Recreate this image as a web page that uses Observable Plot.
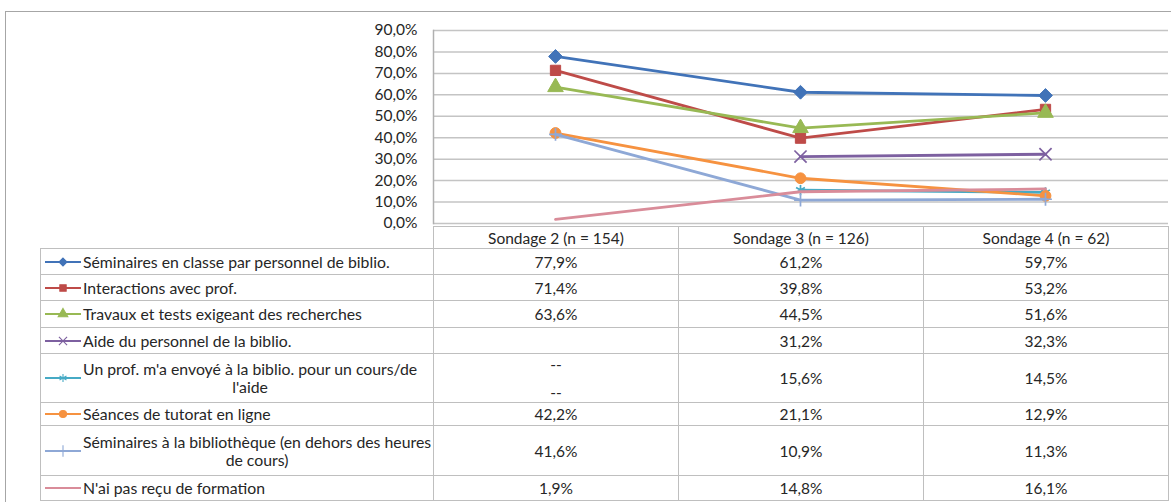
<!DOCTYPE html>
<html><head><meta charset="utf-8">
<script src="https://cdn.jsdelivr.net/npm/d3@7"></script>
<script src="https://cdn.jsdelivr.net/npm/@observablehq/plot@0.6"></script>
<style>
body{margin:0;background:#fff;font-family:Lato,"Open Sans",sans-serif;color:#262626;}
#wrap{position:relative;width:1171px;height:502px;overflow:hidden;background:#fff;}
#frame{position:absolute;left:5px;top:11px;width:1300px;height:700px;border:1.5px solid #A6A6A6;box-sizing:border-box;}
#chart{position:absolute;left:0;top:0;}
table{position:absolute;left:40px;top:226px;border-collapse:collapse;font-size:15.5px;table-layout:fixed;}
td{border:1px solid #BFBFBF;text-align:center;padding:0;vertical-align:middle;line-height:18px;}
td.blank{border:none;}
td.lab{text-align:left;}
.labwrap{display:flex;align-items:center;}
.labwrap svg{flex:none;}
.labtxt{display:inline-block;text-align:center;white-space:pre;font-size:15.8px;}
.miss{display:block;line-height:14px;}
</style>
</head><body>
<div id="wrap"><div id="frame"></div><div id="chart"></div><table id="tbl"></table></div>
<script>
// ---------- DATA ----------
const sondages = ["Sondage 2 (n = 154)", "Sondage 3 (n = 126)", "Sondage 4 (n = 62)"];
const seriesNames = [
  "Séminaires en classe par personnel de biblio.",
  "Interactions avec prof.",
  "Travaux et tests exigeant des recherches",
  "Aide du personnel de la biblio.",
  "Un prof. m'a envoyé à la biblio. pour un cours/de\nl'aide",
  "Séances de tutorat en ligne",
  "Séminaires à la bibliothèque (en dehors des heures\nde cours)",
  "N'ai pas reçu de formation"
];
const seminairesClasse   = [77.9, 61.2, 59.7];
const interactionsProf   = [71.4, 39.8, 53.2];
const travauxTests       = [63.6, 44.5, 51.6];
const aidePersonnel      = [null, 31.2, 32.3];
const profEnvoye         = [null, 15.6, 14.5];
const tutoratEnLigne     = [42.2, 21.1, 12.9];
const seminairesBiblio   = [41.6, 10.9, 11.3];
const pasDeFormation     = [1.9, 14.8, 16.1];
const seriesValues = [seminairesClasse, interactionsProf, travauxTests, aidePersonnel,
                      profEnvoye, tutoratEnLigne, seminairesBiblio, pasDeFormation];
// labels shown for missing values in the data table (as in the original)
const missingLabels = ["", "", "", "", "--\n\n--", "", "", ""];
const yTicks = [0, 10, 20, 30, 40, 50, 60, 70, 80, 90];

// ---------- STYLES ----------
const colors  = ["#4173B8", "#BE4B48", "#98B954", "#7D60A0", "#46AAC5", "#F69240", "#8EA8D6", "#D98C99"];
const symbols = ["diamond2", "square", "triangle", "times", "asterisk", "circle", "plus", null];
const filled  = [true, true, true, false, false, true, false, false];
const sizes   = [6.2, 5.8, 5.8, 5.6, 4.8, 5.4, 4.2, 0];

const fmt = v => v.toFixed(1).replace(".", ",") + "%";

const rows = [];
seriesNames.forEach((name, i) => sondages.forEach((s, j) => {
  rows.push({serie: name, idx: i, sondage: s, value: seriesValues[i][j]});
}));

const marks = [
  Plot.ruleY(yTicks, {stroke: "#C4C4C4", strokeWidth: 1.5}),
  Plot.frame({anchor: "left", stroke: "#B0B0B0", strokeWidth: 1.5}),
  Plot.axisY({ticks: yTicks, tickFormat: fmt, tickSize: 0, tickPadding: 16, fontSize: 15.5, fill: "#262626", label: null})
];
seriesNames.forEach((name, i) => {
  const d = rows.filter(r => r.idx === i);
  marks.push(Plot.line(d, {x: "sondage", y: "value", stroke: colors[i], strokeWidth: 2.8}));
  if (symbols[i]) {
    marks.push(Plot.dot(d.filter(r => r.value != null), {
      x: "sondage", y: "value", symbol: () => symbols[i], r: sizes[i],
      fill: filled[i] ? colors[i] : "none", stroke: colors[i], strokeWidth: filled[i] ? 1 : 1.7
    }));
  }
});

const chart = Plot.plot({
  width: 1171, height: 236,
  marginLeft: 433, marginRight: 3, marginTop: 30, marginBottom: 13,
  style: {fontFamily: "Lato, sans-serif", fontSize: "15.5px", color: "#262626", background: "transparent"},
  x: {type: "point", domain: sondages, range: [555, 1045], padding: 0, axis: null},
  y: {domain: [0, 90], axis: null},
  symbol: {type: "identity"},
  marks
});
document.getElementById("chart").append(chart);

// ---------- DATA TABLE (legend + values) ----------
const rowHeights = [22, 26, 26, 27, 26, 49, 23, 50, 25];
const tbl = d3.select("#tbl");
const cg = tbl.append("colgroup");
cg.append("col").style("width", "393px");
sondages.forEach(() => cg.append("col").style("width", "245px"));
const hr = tbl.append("tr").style("height", rowHeights[0] + "px");
hr.append("td").attr("class", "blank");
sondages.forEach(s => hr.append("td").text(s));

function keySvg(i) {
  const w = 42, h = 14;
  const svg = d3.create("svg").attr("width", w).attr("height", h);
  svg.append("line").attr("x1", 4).attr("x2", 40).attr("y1", h/2).attr("y2", h/2)
     .attr("stroke", colors[i]).attr("stroke-width", 2.2);
  const map = {diamond2: d3.symbolDiamond2, square: d3.symbolSquare, triangle: d3.symbolTriangle,
               times: d3.symbolTimes, asterisk: d3.symbolAsterisk, circle: d3.symbolCircle, plus: d3.symbolPlus};
  if (symbols[i]) {
    svg.append("path").attr("transform", `translate(22,${h/2})`)
      .attr("d", d3.symbol(map[symbols[i]], filled[i] ? 40 : 45)())
      .attr("fill", filled[i] ? colors[i] : "none").attr("stroke", colors[i]).attr("stroke-width", 1.1);
  }
  return svg.node();
}

seriesNames.forEach((name, i) => {
  const tr = tbl.append("tr").style("height", rowHeights[i + 1] + "px");
  const lab = tr.append("td").attr("class", "lab").append("div").attr("class", "labwrap");
  lab.node().append(keySvg(i));
  lab.append("span").attr("class", "labtxt").text(name);
  seriesValues[i].forEach(v => {
    const td = tr.append("td");
    if (v == null) {
      const parts = missingLabels[i].split("\n");
      parts.forEach(p => td.append("span").attr("class", "miss").html(p === "" ? "&nbsp;" : p));
    } else td.text(fmt(v));
  });
});
</script>
</body></html>
